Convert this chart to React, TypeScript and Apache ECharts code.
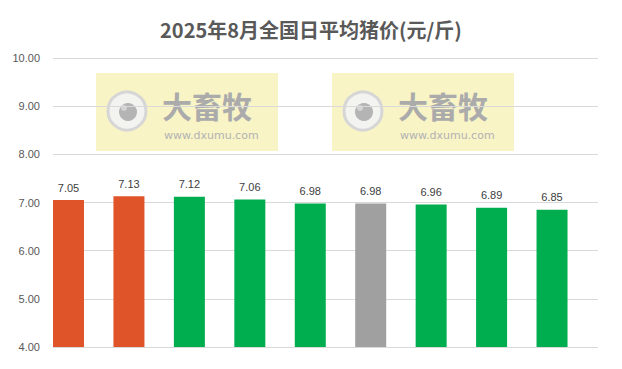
import React, { useEffect, useRef } from "react";
import * as echarts from "echarts";

const titleText = "2025年8月全国日平均猪价(元/斤)";
const categories = ["8月1日", "8月2日", "8月3日", "8月4日", "8月5日", "8月6日", "8月7日", "8月8日", "8月9日"];
const prices = [7.05, 7.13, 7.12, 7.06, 6.98, 6.98, 6.96, 6.89, 6.85];
const trend = ["up", "up", "down", "down", "down", "flat", "down", "down", "down"];
const yTicks = [4, 5, 6, 7, 8, 9, 10];
const watermarkMain = "大畜牧";
const watermarkSub = "www.dxumu.com";

const trendColor: Record<string, string> = {
  up: "#E0542A",
  down: "#00AE50",
  flat: "#A0A0A0",
};

function watermark(x0: number): any[] {
  const cy = 111;
  return [
    { type: "rect", z: 0, shape: { x: x0, y: 73, width: 182, height: 78 }, style: { fill: "#F8F4C6" } },
    { type: "circle", z: 0, shape: { cx: x0 + 31, cy, r: 19 }, style: { fill: "#F3F3F0", stroke: "#D6D6D6", lineWidth: 3 } },
    { type: "circle", z: 0, shape: { cx: x0 + 32, cy: cy + 1, r: 9 }, style: { fill: "#B4B4B4" } },
    { type: "circle", z: 0, shape: { cx: x0 + 28, cy: cy - 3, r: 3 }, style: { fill: "#D4D4D4" } },
    {
      type: "text", z: 0, x: x0 + 66, y: 105,
      style: {
        text: watermarkMain, fill: "#ABABAB", fontSize: 30, fontWeight: "bold", fontFamily: "'Noto Sans CJK SC'",
        lineHeight: 30, verticalAlign: "middle", align: "left",
      },
    },
    {
      type: "text", z: 0, x: x0 + 68, y: 135,
      style: {
        text: watermarkSub, fill: "#B2B2B2", fontSize: 11, fontFamily: "'DejaVu Sans'",
        lineHeight: 11, verticalAlign: "middle", align: "left",
      },
    },
  ];
}

export default function App() {
  const ref = useRef<HTMLDivElement>(null);
  useEffect(() => {
    if (!ref.current) return;
    const chart = echarts.init(ref.current, undefined, { renderer: "svg" });
    const step = 1;
    const xMin = -0.2565;
    const xMax = xMin + 9.017;
    chart.setOption({
      animation: false,
      backgroundColor: "#FFFFFF",
      title: {
        text: titleText,
        left: "center",
        top: 19,
        padding: 0,
        textStyle: { fontSize: 20, fontWeight: "bold", color: "#595959", fontFamily: "'Noto Sans CJK SC'" },
      },
      graphic: [...watermark(96), ...watermark(332)],
      grid: { left: 53, right: 24, top: 58, bottom: 22, containLabel: false },
      xAxis: {
        type: "value",
        min: xMin,
        max: xMax,
        show: true,
        axisLine: { show: false },
        axisTick: { show: false },
        axisLabel: { show: false },
        splitLine: { show: false },
      },
      yAxis: {
        type: "value",
        min: yTicks[0],
        max: yTicks[yTicks.length - 1],
        interval: step,
        z: 1,
        axisLine: { show: false },
        axisTick: { show: false },
        axisLabel: {
          formatter: (v: number) => v.toFixed(2),
          color: "#595959",
          fontSize: 11,
          fontFamily: "'Liberation Sans'",
          margin: 13,
        },
        splitLine: { lineStyle: { color: "#D9D9D9", width: 1 } },
      },
      series: [
        {
          type: "bar",
          z: 2,
          barWidth: 31,
          data: prices.map((v, i) => ({
            value: [i, v],
            name: categories[i],
            itemStyle: { color: trendColor[trend[i]] },
          })),
          label: {
            show: true,
            position: "top",
            distance: 7,
            formatter: (p: any) => p.value[1].toFixed(2),
            color: "#404040",
            fontSize: 11,
            fontFamily: "'Liberation Sans'",
          },
        },
      ],
    });
    return () => chart.dispose();
  }, []);
  return <div ref={ref} style={{ position: "absolute", left: 0, top: 0, width: 622, height: 369 }} />;
}
